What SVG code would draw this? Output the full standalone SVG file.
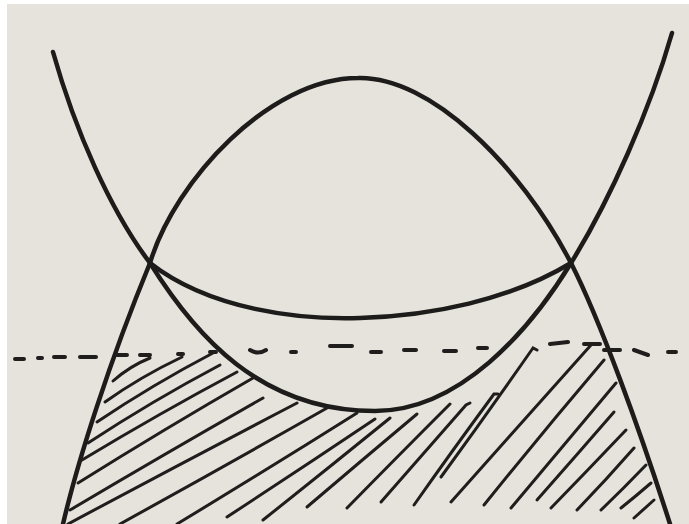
<svg xmlns="http://www.w3.org/2000/svg" width="689" height="524" viewBox="0 0 689 524">
<style>
.curve{fill:none;stroke:#1d1c1a;stroke-width:4.5;stroke-linecap:round;stroke-linejoin:round}
.hatch{fill:none;stroke:#1f1e1c;stroke-width:3;stroke-linecap:round}
.dash{fill:none;stroke:#1f1e1c;stroke-width:4;stroke-linecap:round}
</style>
<rect x="0" y="0" width="689" height="524" fill="#ffffff"/>
<rect x="7" y="4" width="682" height="520" fill="#e6e3dd"/>
<g id="arch">
<path class="curve" d="M63,524 C78,460 110,360 150,263"/>
<path class="curve" d="M150,263 C175,180 270,78 358,78 C430,76 520,165 571,263"/>
<path class="curve" d="M571,263 C600,320 640,430 670,524"/>
</g>
<g id="bowl">
<path class="curve" d="M53,52 C75,130 110,210 150,263 C195,335 260,411 375,411 C460,411 530,330 571,263 C610,200 650,110 672,33"/>
</g>
<g id="chord">
<path class="curve" d="M150,263 C210,310 300,320 360,318 C430,316 510,300 571,263"/>
</g>
<g id="dashed-line">
<path class="dash" d="M15,359 L24,359 M38,358 L42,358 M54,357 L65,357 M80,357 L96,357 M117,355 L127,355 M140,355 L150,355 M178,354 L183,354 M210,352 L216,352 M250,350 Q258,355 266,350 M291,352 L296,352 M330,346 L352,346 M371,352 L381,352 M404,350 L416,350 M444,351 L456,351 M478,348 L487,348 M550,344 L568,342 M584,344 L600,344 M604,350 L620,350 M634,350 L648,355 M668,352 L676,352"/>
</g>
<g id="hatching">
<path class="hatch" d="M113,381 Q130,366 150,358"/>
<path class="hatch" d="M105,402 Q140,377 182,357"/>
<path class="hatch" d="M97,422 Q152,385 213,353"/>
<path class="hatch" d="M88,443 Q152,401 220,365"/>
<path class="hatch" d="M82,460 Q160,413 237,372"/>
<path class="hatch" d="M78,483 Q166,428 253,378"/>
<path class="hatch" d="M70,510 Q168,452 263,398"/>
<path class="hatch" d="M68,524 Q184,462 297,403"/>
<path class="hatch" d="M120,524 Q225,466 327,408"/>
<path class="hatch" d="M177,524 Q268,469 357,413"/>
<path class="hatch" d="M227,517 Q302,468 375,419"/>
<path class="hatch" d="M263,520 Q326,470 390,418"/>
<path class="hatch" d="M307,507 Q361,461 417,414"/>
<path class="hatch" d="M347,508 Q397,457 450,404"/>
<path class="hatch" d="M381,502 Q422,455 466,405 L470,403"/>
<path class="hatch" d="M414,505 Q452,451 494,394 L498,394"/>
<path class="hatch" d="M441,477 Q487,414 533,348 L537,350"/>
<path class="hatch" d="M451,502 Q520,425 591,345"/>
<path class="hatch" d="M484,505 Q542,433 604,360"/>
<path class="hatch" d="M511,508 Q562,447 616,383"/>
<path class="hatch" d="M537,500 Q575,457 614,412"/>
<path class="hatch" d="M551,508 Q588,470 626,430"/>
<path class="hatch" d="M577,510 Q606,480 634,448"/>
<path class="hatch" d="M601,510 Q624,488 646,465"/>
<path class="hatch" d="M621,508 Q636,496 651,483"/>
<path class="hatch" d="M634,518 Q644,509 654,500"/>
</g>
</svg>
